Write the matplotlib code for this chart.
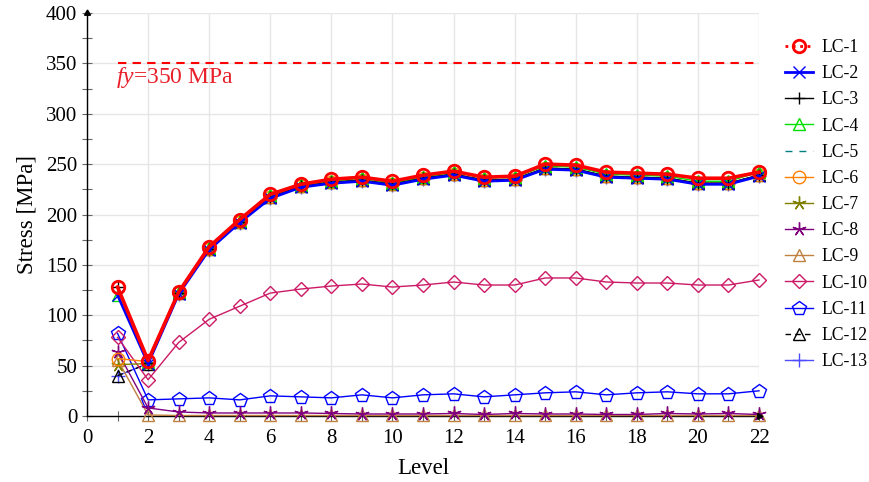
import matplotlib
matplotlib.use("Agg")
import matplotlib.pyplot as plt
from matplotlib.lines import Line2D
from matplotlib.ticker import MultipleLocator

plt.rcParams['font.family'] = ['Liberation Serif', 'DejaVu Serif']
plt.rcParams['mathtext.fontset'] = 'custom'
plt.rcParams['mathtext.rm'] = 'Liberation Serif'
plt.rcParams['mathtext.it'] = 'Liberation Serif:italic'

levels = list(range(1, 23))
lc1 = [128, 55, 123, 168, 195, 220, 230, 235, 237, 233, 239, 243, 237, 238, 250, 249, 242, 241, 240, 236, 236, 242]
lc2 = [120, 52, 121, 165, 192, 216, 227, 231, 233, 229, 235, 239, 233, 234, 245, 244, 237, 236, 235, 230, 230, 238]
lc3 = [128, 53, 122, 166, 193, 217, 228, 232, 234, 230, 236, 240, 234, 235, 246, 245, 238, 237, 236, 231, 231, 239]
lc4 = [120, 54, 123, 167, 194, 219, 229, 233, 236, 231, 237, 242, 236, 237, 248, 247, 240, 239, 238, 233, 233, 242]
lc5 = [120, 53, 122, 166, 193, 217, 228, 232, 234, 230, 236, 240, 234, 235, 246, 245, 238, 237, 236, 231, 231, 239]
lc6 = [57, 54, 122, 166, 193, 217, 228, 232, 234, 230, 236, 240, 234, 235, 246, 245, 238, 237, 236, 231, 231, 239]
lc7 = [51, 52, 122, 166, 193, 217, 228, 232, 234, 230, 236, 240, 234, 235, 246, 245, 238, 237, 236, 231, 231, 239]
lc8 = [64, 8, 4, 3, 3, 3, 3, 2.5, 2, 2, 2, 2.5, 1.5, 2.5, 2, 2, 1.5, 1.5, 2.5, 2, 2.5, 1.5]
lc9 = [56, 1, 0.5, 0.5, 0.5, 0.5, 0.5, 0.5, 0.5, 0.5, 0.5, 0.5, 0.5, 0.5, 0.5, 0.5, 0.5, 0.5, 0.5, 0.5, 0.5, 0.5]
lc10 = [78, 36, 73, 96, 109, 122, 126, 129, 131, 128, 130, 133, 130, 130, 137, 137, 133, 132, 132, 130, 130, 135]
lc11 = [82, 16, 17, 18, 16, 20, 19, 18, 21, 18, 21, 22, 19, 21, 23, 24, 21, 23, 24, 22, 22, 25]
lc12 = [40, 52, 122, 166, 193, 217, 228, 232, 234, 230, 236, 240, 234, 235, 246, 245, 238, 237, 236, 231, 231, 239]
lc13 = [40, 52, 121, 165, 192, 216, 227, 231, 233, 229, 235, 239, 233, 234, 245, 244, 237, 236, 235, 230, 230, 238]
names = ["LC-1", "LC-2", "LC-3", "LC-4", "LC-5", "LC-6", "LC-7", "LC-8", "LC-9", "LC-10", "LC-11", "LC-12", "LC-13"]
fy = 350
fy_label = r"$\mathit{fy}$=350 MPa"

series = [lc1, lc2, lc3, lc4, lc5, lc6, lc7, lc8, lc9, lc10, lc11, lc12, lc13]
star = (5, 2, 0)
styles = [
    dict(color='red', ls='-', marker='o', mfc='none', ms=9, mew=2.0, lw=2.6),
    dict(color='blue', ls='-', marker='x', ms=8, mew=1.0, lw=2.0),
    dict(color='black', ls='-', marker='+', ms=9, mew=1.0, lw=1.0),
    dict(color='#00e000', ls='-', marker='^', mfc='none', ms=8, mew=1.0, lw=1.0),
    dict(color='#008080', ls=(0, (5, 5)), marker=None, lw=1.0),
    dict(color='#ff8000', ls='-', marker='o', mfc='none', ms=9, mew=1.0, lw=1.0),
    dict(color='#808000', ls='-', marker=star, mfc='none', ms=10, mew=1.0, lw=1.0),
    dict(color='#800080', ls='-', marker=star, mfc='none', ms=10, mew=1.0, lw=1.0),
    dict(color='#bf8040', ls='-', marker='^', mfc='none', ms=8, mew=1.0, lw=1.0),
    dict(color='#cc1a66', ls='-', marker='D', mfc='none', ms=7, mew=1.0, lw=1.0),
    dict(color='blue', ls='-', marker='p', mfc='none', ms=10, mew=1.0, lw=1.0),
    dict(color='black', ls=(0, (4, 3)), marker='^', mfc='none', ms=8, mew=1.0, lw=1.0),
    dict(color='#4d4dff', ls='-', marker='+', ms=10, mew=1.0, lw=1.0),
]

fig = plt.figure(figsize=(8.69, 4.82), dpi=100)
ax = fig.add_axes([87/869, 1-416/482, (759-87)/869, (416-13)/482])

handles = []
order = [10, 9, 8, 7, 11, 12, 6, 5, 4, 3, 2, 1, 0]
for i in order:
    st = dict(styles[i])
    ax.plot(levels, series[i], zorder=3 + (12 - i) * 0.01 if i > 0 else 3.5, clip_on=False, **st)
for i, st in enumerate(styles):
    st = dict(st)
    if i == 0:
        st['ls'] = ':'
        st['lw'] = 2.0
    handles.append(Line2D([], [], **st))

ax.plot([1, 22], [fy, fy], color='red', ls=(0, (4, 3)), lw=1.5, zorder=2)
ax.text(0.95, 336, fy_label, color='#e8202a', fontsize=17, va='center', ha='left')

ax.set_xlim(0, 22)
ax.set_ylim(0, 400)
ax.xaxis.set_major_locator(MultipleLocator(2))
ax.xaxis.set_minor_locator(MultipleLocator(1))
ax.yaxis.set_major_locator(MultipleLocator(50))
ax.yaxis.set_minor_locator(MultipleLocator(25))
ax.grid(True, which='major', color='#e6e6e6', lw=1.0, zorder=0)
ax.set_axisbelow(True)
ax.tick_params(which='both', direction='inout', length=7, width=0.8, color='#666666', labelsize=15)
ax.tick_params(axis='x', pad=6)
for s in ['top', 'right']:
    ax.spines[s].set_visible(False)
for s in ['left', 'bottom']:
    ax.spines[s].set_linewidth(1.0)
ax.plot(0, 1, marker=(3, 0, 0), color='black', ms=5, transform=ax.transAxes, clip_on=False, zorder=5)
ax.plot(1, 0, marker=(3, 0, -90), color='black', ms=5, transform=ax.transAxes, clip_on=False, zorder=5)

ax.set_xlabel("Level", fontsize=16.5, labelpad=7)
ax.set_ylabel("Stress [MPa]", fontsize=16.5, labelpad=6)

fig.legend(handles, names, loc='upper left', bbox_to_anchor=(785/869, 1-39/482), frameon=False,
           fontsize=12.7, handlelength=1.6, handletextpad=0.45, labelspacing=0.52, borderpad=0, borderaxespad=0)

fig.savefig("out.png", dpi=100)
